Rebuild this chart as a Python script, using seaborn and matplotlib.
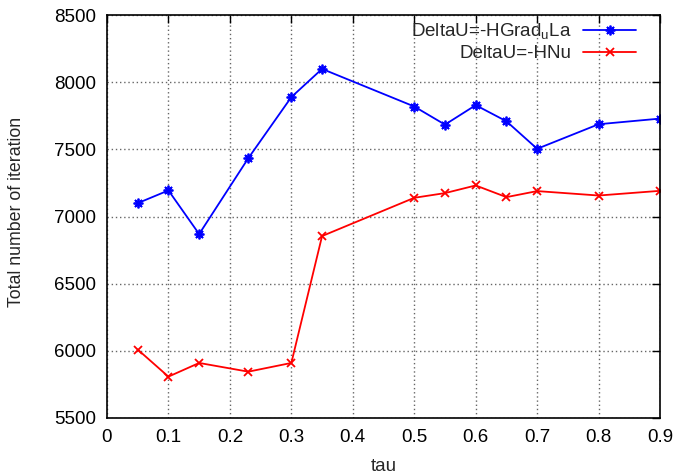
import matplotlib
matplotlib.use("Agg")
import matplotlib.pyplot as plt
import seaborn as sns
import pandas as pd

tau = [0.05, 0.1, 0.15, 0.23, 0.3, 0.35, 0.5, 0.55, 0.6, 0.65, 0.7, 0.8, 0.9]
iters_grad = [7100, 7195, 6870, 7435, 7890, 8100, 7820, 7685, 7830, 7710, 7505, 7688, 7730]
iters_hnu = [6010, 5808, 5910, 5845, 5910, 6855, 7140, 7175, 7232, 7145, 7190, 7157, 7192]
labels = [r"DeltaU=-HGrad$_\mathregular{u}$La", "DeltaU=-HNu"]
xticks = [0, 0.1, 0.2, 0.3, 0.4, 0.5, 0.6, 0.7, 0.8, 0.9]
yticks = [5500, 6000, 6500, 7000, 7500, 8000, 8500]

sns.set_style("white")
plt.rcParams["font.family"] = ["Liberation Sans", "DejaVu Sans"]
plt.rcParams["mathtext.fontset"] = "custom"
plt.rcParams["mathtext.rm"] = "Liberation Sans"

fig = plt.figure(figsize=(6.77, 4.75), dpi=100)
ax = fig.add_axes([0.158, 0.12, 0.817, 0.848])

df1 = pd.DataFrame({"tau": tau, "n": iters_grad})
df2 = pd.DataFrame({"tau": tau, "n": iters_hnu})
sns.lineplot(data=df1, x="tau", y="n", ax=ax, color="#0000ff", lw=1.3,
             marker=(8, 2, 0), markersize=7, markeredgewidth=1.3,
             markeredgecolor="#0000ff", label=labels[0])
sns.lineplot(data=df2, x="tau", y="n", ax=ax, color="#ff0000", lw=1.3,
             marker="x", markersize=6, markeredgewidth=1.3,
             markeredgecolor="#ff0000", label=labels[1])

ax.set_xlim(0, 0.9)
ax.set_ylim(5500, 8500)
ax.set_xticks(xticks)
ax.set_xticklabels(["0" if t == 0 else f"{t:g}" for t in xticks])
ax.set_yticks(yticks)
ax.grid(True, color="#666666", linestyle=(0, (1, 2)), linewidth=1.0)
for s in ax.spines.values():
    s.set_color("black")
    s.set_linewidth(1.2)
ax.tick_params(direction="in", length=6, width=1, top=True, right=True,
               labelsize=13.5, colors="black", pad=8)
ax.set_xlabel("tau", fontsize=13.5)
ax.set_ylabel("Total number of iteration", fontsize=12.8)
ax.xaxis.set_label_coords(0.5, -0.1)
ax.yaxis.set_label_coords(-0.148, 0.512)

leg = ax.legend(loc="upper right", bbox_to_anchor=(0.957, 0.985),
                frameon=False, fontsize=13.5, markerfirst=False,
                handlelength=2.85, borderaxespad=0, borderpad=0,
                labelspacing=0.2, handletextpad=0.6)
for t in leg.get_texts():
    t.set_ha("right")
leg._legend_box.align = "right"

fig.savefig("out.png", dpi=100)
